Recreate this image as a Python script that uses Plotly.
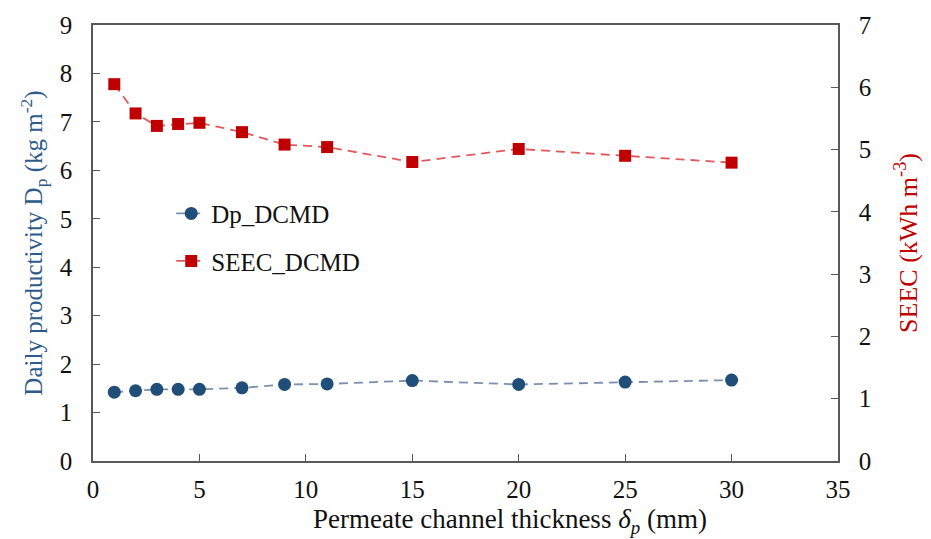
import plotly.graph_objects as go

# Permeate channel thickness (mm)
thickness = [1, 2, 3, 4, 5, 7, 9, 11, 15, 20, 25, 30]
# Daily productivity Dp (kg m^-2)
dp_dcmd = [1.42, 1.45, 1.48, 1.48, 1.48, 1.51, 1.58, 1.59, 1.66, 1.58, 1.63, 1.67]
# Specific electrical energy consumption (kWh m^-3)
seec_dcmd = [6.05, 5.58, 5.38, 5.41, 5.43, 5.28, 5.08, 5.04, 4.80, 5.01, 4.90, 4.79]

x_ticks = [0, 5, 10, 15, 20, 25, 30, 35]
left_ticks = list(range(0, 10))
right_ticks = list(range(0, 8))

FONT = "'Times New Roman', 'Liberation Serif', Tinos, 'DejaVu Serif', serif"
AXIS_COLOR = "#595959"
BLUE = "#1F4E79"
RED = "#C00000"

fig = go.Figure()
fig.add_trace(go.Scatter(
    x=thickness, y=dp_dcmd, name="Dp_DCMD", mode="lines+markers",
    line=dict(color="#7A8FB0", width=1.8, dash="9px,6px"),
    marker=dict(symbol="circle", size=13, color=BLUE),
    legendgroup="a", yaxis="y",
))
fig.add_trace(go.Scatter(
    x=thickness, y=seec_dcmd, name="SEEC_DCMD", mode="lines+markers",
    line=dict(color="#E0585C", width=1.8, dash="9px,6px"),
    marker=dict(symbol="square", size=12, color=RED),
    legendgroup="b", yaxis="y2",
))

axis_common = dict(
    showline=True, linecolor=AXIS_COLOR, linewidth=1.5,
    ticks="inside", ticklen=7, tickcolor=AXIS_COLOR, tickwidth=1.2,
    showgrid=False, zeroline=False,
    tickfont=dict(family=FONT, size=25, color="#111111"),
)

fig.update_layout(
    width=931, height=539,
    margin=dict(l=93, r=93, t=17, b=78),
    paper_bgcolor="white", plot_bgcolor="white",
    font=dict(family=FONT, size=25, color="#111111"),
    xaxis=dict(
        range=[0, 35], tickvals=x_ticks, mirror=True,
        ticklabelstandoff=5,
        **axis_common,
    ),
    yaxis=dict(
        range=[0, 9], tickvals=left_ticks, ticklabelstandoff=14,
        title=dict(text="Daily productivity D<sub>p</sub> (kg m<sup>-2</sup>)",
                   font=dict(family=FONT, size=25, color="#2E5C8A"), standoff=10),
        **axis_common,
    ),
    yaxis2=dict(
        range=[0, 7], tickvals=right_ticks, overlaying="y", side="right",
        ticklabelstandoff=14,
        title=dict(text="SEEC (kWh m<sup>-3</sup>)",
                   font=dict(family=FONT, size=26, color=RED), standoff=28),
        **axis_common,
    ),
    legend=dict(
        x=0.105, y=0.62, xanchor="left", yanchor="top",
        bgcolor="rgba(0,0,0,0)", tracegroupgap=12,
        font=dict(family=FONT, size=25, color="#111111"),
    ),
)

# x-axis title, placed slightly right of the plot centre
fig.add_annotation(
    text="Permeate channel thickness <i>δ<sub>p</sub></i> (mm)",
    xref="paper", yref="paper", x=0.56, y=-0.138,
    xanchor="center", yanchor="middle", showarrow=False,
    font=dict(family=FONT, size=27, color="#111111"),
)

fig.write_html("out.html")
